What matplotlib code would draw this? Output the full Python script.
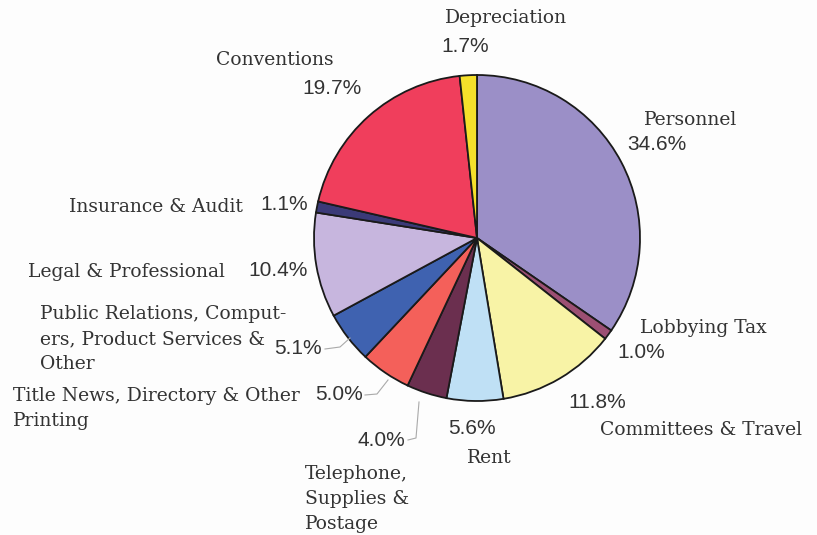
import matplotlib.pyplot as plt

# data (clockwise from top)
labels = ["Personnel", "Lobbying Tax", "Committees & Travel", "Rent",
          "Telephone,\nSupplies &\nPostage",
          "Title News, Directory & Other\nPrinting",
          "Public Relations, Comput-\ners, Product Services &\nOther",
          "Legal & Professional", "Insurance & Audit", "Conventions", "Depreciation"]
shares = [34.6, 1.0, 11.8, 5.6, 4.0, 5.0, 5.1, 10.4, 1.1, 19.7, 1.7]
colors = ["#9b8fc7", "#9c4f73", "#f8f3a6", "#bfe0f5", "#6b2f4f", "#f4605a",
          "#3f62b0", "#c7b6de", "#3b3a78", "#f03e5c", "#f5e02a"]

# text positions in pixels (x, y of first line, from top)
name_pos = [(644, 120, "left"), (640, 328, "left"), (600, 430, "left"), (467, 458, "left"),
            (305, 474, "left"), (13, 396, "left"), (40, 314, "left"),
            (225, 272, "right"), (243, 207, "right"), (334, 60, "right"), (445, 18, "left")]
pct_pos = [(627, 145, "left"), (617, 352, "left"), (568, 403, "left"), (448, 428, "left"),
           (405, 440, "right"), (363, 395, "right"), (322, 349, "right"),
           (308, 270, "right"), (308, 205, "right"), (362, 88, "right"), (441, 47, "left")]

W, H = 817, 535
fig = plt.figure(figsize=(W / 100, H / 100), dpi=100)
fig.patch.set_facecolor("#fdfdfd")
ax = fig.add_axes([0, 0, 1, 1])

cx, cy, r = 477, H - 238, 163
ax.pie(shares, colors=colors, startangle=90, counterclock=False,
       center=(cx, cy), radius=r, frame=True,
       wedgeprops=dict(edgecolor="#1a1a1a", linewidth=1.3))
ax.set_xlim(0, W)
ax.set_ylim(0, H)
ax.set_aspect("equal")
ax.axis("off")

for lab, (x, y, ha) in zip(labels, name_pos):
    for i, line in enumerate(lab.split("\n")):
        ax.text(x, H - (y + i * 25), line, ha=ha, va="center", fontsize=13.5,
                family="DejaVu Serif", color="#333333")
for v, (x, y, ha) in zip(shares, pct_pos):
    ax.text(x, H - y, f"{v:.1f}%", ha=ha, va="center", fontsize=15,
            family="Liberation Sans", color="#333333")

# leader lines
lc = "#aaaaaa"
ax.plot([325, 340, 350], [H - 349, H - 347, H - 338], color=lc, lw=0.8)
ax.plot([365, 377, 388], [H - 395, H - 394, H - 380], color=lc, lw=0.8)
ax.plot([408, 416, 419], [H - 440, H - 438, H - 402], color=lc, lw=0.8)

fig.savefig("out.png", dpi=100, facecolor=fig.get_facecolor())
